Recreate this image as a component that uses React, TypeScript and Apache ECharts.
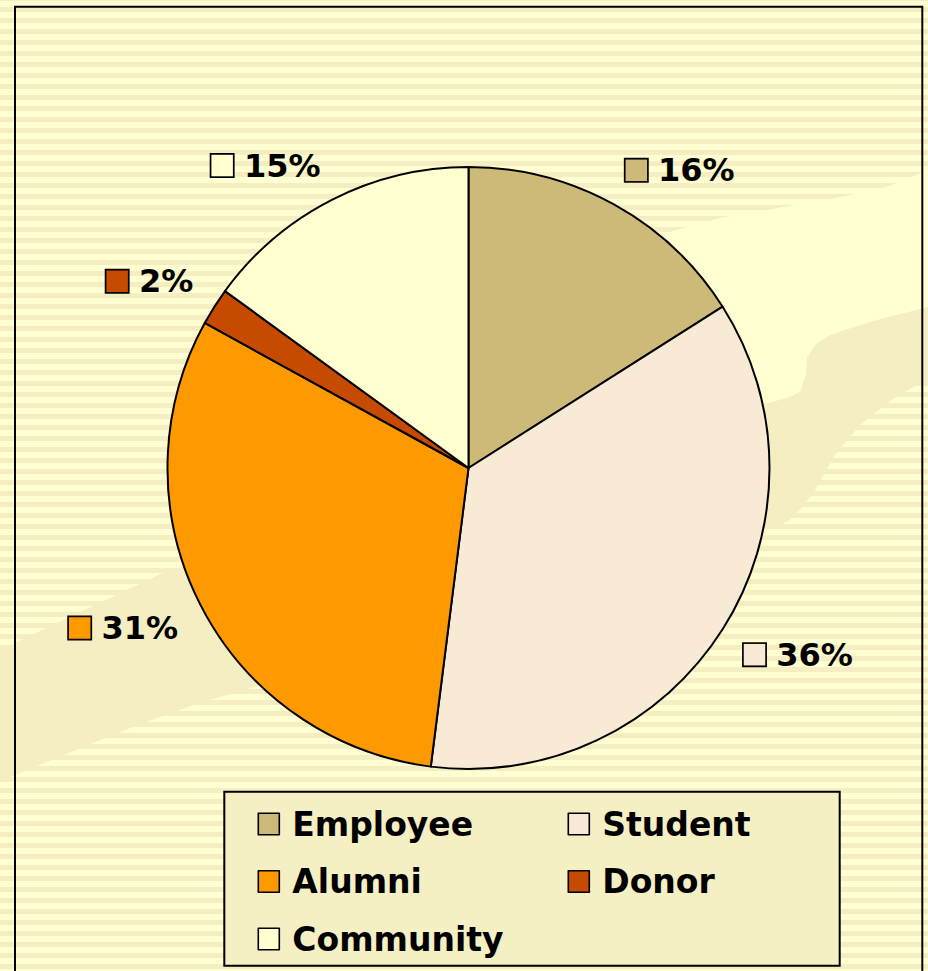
import React, { useEffect, useRef } from 'react';
import * as echarts from 'echarts';

const categories = ['Employee', 'Student', 'Alumni', 'Donor', 'Community'];
const shares = [16, 36, 31, 2, 15];
const sliceColors = ['#CDB978', '#F8EAD5', '#FF9900', '#C64A00', '#FFFFCF'];
const legendLeftColumn = ['Employee', 'Alumni', 'Community'];
const legendRightColumn = ['Student', 'Donor'];

const FONT = '"DejaVu Sans", "Liberation Sans", Arial, sans-serif';
const CX = 468.5;
const CY = 468;
const RADIUS = 301;
const LABEL_GAP = 25;

export default function App() {
  const ref = useRef<HTMLDivElement>(null);

  useEffect(() => {
    const chart = echarts.init(ref.current as HTMLDivElement, null, { renderer: 'svg' });
    const total = shares.reduce((a, b) => a + b, 0);
    const mids: number[] = [];
    let acc = 0;
    shares.forEach((v) => {
      mids.push(((acc + v / 2) / total) * 2 * Math.PI);
      acc += v;
    });

    const rich: any = {
      gap: { width: 11, fontSize: 10, lineHeight: 24, verticalAlign: 'middle' },
      v: {
        fontFamily: FONT,
        fontWeight: 'bold',
        fontSize: 32,
        lineHeight: 24,
        color: '#000',
        verticalAlign: 'middle',
      },
    };
    sliceColors.forEach((c, i) => {
      rich['sq' + i] = {
        width: 21.5,
        height: 21.5,
        backgroundColor: c,
        borderColor: '#000',
        borderWidth: 1.7,
        verticalAlign: 'middle',
      };
    });

    const legendCommon = {
      orient: 'vertical',
      top: 807,
      padding: 0,
      itemWidth: 21,
      itemHeight: 21.5,
      itemGap: 23.5,
      icon: 'rect',
      selectedMode: false,
      itemStyle: { borderColor: '#000', borderWidth: 1.6 },
      textStyle: {
        fontFamily: FONT,
        fontWeight: 'bold',
        fontSize: 33,
        lineHeight: 34,
        color: '#000',
        padding: [0, 0, 0, 8],
      },
    };

    chart.setOption({
      animation: false,
      backgroundColor: 'transparent',
      graphic: [
        {
          type: 'polygon',
          z: 0,
          silent: true,
          shape: {
            points: [
              [928, 170], [900, 182], [880, 189], [830, 199], [760, 211], [720, 218],
              [640, 240], [400, 400], [190, 566], [790, 397], [800, 392], [806, 375],
              [807, 358], [815, 345], [830, 335], [870, 322], [928, 307],
            ],
          },
          style: { fill: '#FFFFD1' },
        },
        {
          type: 'polygon',
          z: 0,
          silent: true,
          shape: {
            points: [
              [0, 650], [165, 572], [790, 397], [800, 392], [806, 375], [807, 358],
              [815, 345], [830, 335], [870, 322], [928, 307], [928, 380], [915, 386],
              [890, 401], [860, 425], [835, 455], [815, 490], [800, 510], [787, 522],
              [600, 585], [200, 703], [140, 724], [0, 781],
            ],
          },
          style: { fill: '#F4EEC2' },
        },
        {
          type: 'rect',
          z: 1,
          silent: true,
          shape: { x: 15, y: 6.7, width: 907.3, height: 1000 },
          style: { fill: 'none', stroke: '#000', lineWidth: 2 },
        },
        {
          type: 'rect',
          z: 1,
          silent: true,
          shape: { x: 224.3, y: 791.7, width: 615.4, height: 174 },
          style: { fill: '#F5EFC4', stroke: '#000', lineWidth: 2 },
        },
      ],
      legend: [
        { ...legendCommon, left: 257.5, data: legendLeftColumn },
        { ...legendCommon, left: 567.5, data: legendRightColumn },
      ],
      series: [
        {
          type: 'pie',
          center: [CX, CY],
          radius: RADIUS,
          startAngle: 90,
          clockwise: true,
          avoidLabelOverlap: false,
          itemStyle: { borderColor: '#000', borderWidth: 2 },
          emphasis: { disabled: true },
          labelLine: { show: false },
          label: {
            show: true,
            position: 'outside',
            formatter: (p: any) => `{sq${p.dataIndex}|}{gap| }{v|${p.value}%}`,
            rich,
          },
          labelLayout: (p: any) => {
            const a = mids[p.dataIndex];
            const dx = Math.sin(a);
            const dy = -Math.cos(a);
            return {
              x: CX + (RADIUS + LABEL_GAP) * dx,
              y: CY + (RADIUS + LABEL_GAP) * dy,
              align: dx >= 0 ? 'left' : 'right',
              verticalAlign: dy < 0 ? 'bottom' : 'top',
            };
          },
          data: categories.map((name, i) => ({
            name,
            value: shares[i],
            itemStyle: { color: sliceColors[i] },
          })),
        },
      ],
    });

    return () => chart.dispose();
  }, []);

  return (
    <div
      ref={ref}
      style={{
        position: 'absolute',
        left: 0,
        top: 0,
        width: 928,
        height: 971,
        background:
          'repeating-linear-gradient(180deg, #F4EEC2 0px, #F4EEC2 0.7px, #FFFFD1 0.7px, #FFFFD1 7.3px, #F4EEC2 7.3px, #F4EEC2 11px)',
      }}
    />
  );
}
